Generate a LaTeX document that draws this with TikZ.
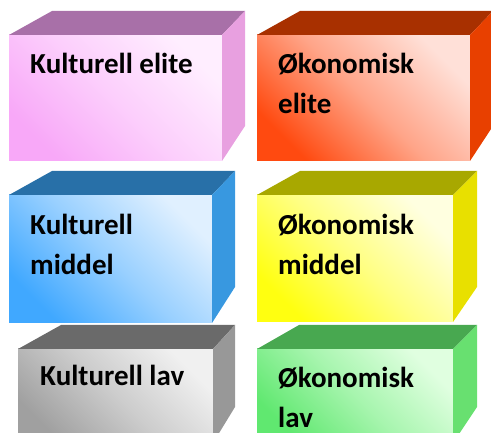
\documentclass[tikz,border=0pt]{standalone}
\usepackage{fontspec}
\setmainfont{Carlito}
\usetikzlibrary{positioning}

\definecolor{pinkL}{HTML}{FFEEFF}
\definecolor{pinkD}{HTML}{F8A8F8}
\definecolor{pinkT}{HTML}{A870A8}
\definecolor{pinkS}{HTML}{E8A0E0}
\definecolor{redL}{HTML}{FFE0D8}
\definecolor{redD}{HTML}{FF4A10}
\definecolor{redT}{HTML}{A83000}
\definecolor{redS}{HTML}{E84000}
\definecolor{blueL}{HTML}{E0F0FF}
\definecolor{blueD}{HTML}{40A8FF}
\definecolor{blueT}{HTML}{2870A8}
\definecolor{blueS}{HTML}{3898E0}
\definecolor{yellowL}{HTML}{FFFFE0}
\definecolor{yellowD}{HTML}{FFFF10}
\definecolor{yellowT}{HTML}{A8A800}
\definecolor{yellowS}{HTML}{E8E000}
\definecolor{grayL}{HTML}{F0F0F0}
\definecolor{grayD}{HTML}{A0A0A0}
\definecolor{grayT}{HTML}{6A6A6A}
\definecolor{grayS}{HTML}{989898}
\definecolor{greenL}{HTML}{E0FFE0}
\definecolor{greenD}{HTML}{60E870}
\definecolor{greenT}{HTML}{48A850}
\definecolor{greenS}{HTML}{68E070}

\begin{document}
\begin{tikzpicture}[x=1pt,y=1pt,
                    frontface/.style={rectangle,
                                      inner sep=0,outer sep=0,
                                      anchor=north west
                                     },
                    boxtext/.style={inner sep=0,
                                    align=left,
                                    font=\fontsize{29}{40}\selectfont\bfseries
                                   }
                   ]
  \useasboundingbox (0,0) rectangle (491,432);
  \clip (0,0) rectangle (491,432);

  % kulturell elite
  \node[frontface,minimum width=213pt,minimum height=126pt,
        top color=pinkL,bottom color=pinkD,middle color=pinkL!55!pinkD,shading angle=-45] (KE) at (9,397) {};
  \fill[pinkT] (KE.north west) -- ++(43,24) -- ++(193,0) -- (KE.north east) -- cycle;
  \fill[pinkS] (KE.north east) -- ++(23,24) -- ++(0,-115) -- (KE.south east) -- cycle;
  \node[boxtext,below right=39pt and 21pt of KE.north west,anchor=base west] (KEtext) {Kulturell elite};

  % økonomisk elite (base = last line)
  \node[frontface,minimum width=213pt,minimum height=126pt,
        top color=redL,bottom color=redD,middle color=redL!60!redD,shading angle=-45] (OE) at (257,397) {};
  \fill[redT] (OE.north west) -- ++(43,24) -- ++(193,0) -- (OE.north east) -- cycle;
  \fill[redS] (OE.north east) -- ++(23,24) -- ++(0,-115) -- (OE.south east) -- cycle;
  \node[boxtext,below right=79pt and 21pt of OE.north west,anchor=base west] (OEtext) {Økonomisk\\elite};

  % kulturell middel
  \node[frontface,minimum width=203pt,minimum height=128pt,
        top color=blueL,bottom color=blueD,middle color=blueL!55!blueD,shading angle=-45] (KM) at (9,237) {};
  \fill[blueT] (KM.north west) -- ++(43,24) -- ++(183,0) -- (KM.north east) -- cycle;
  \fill[blueS] (KM.north east) -- ++(23,24) -- ++(0,-116) -- (KM.south east) -- cycle;
  \node[boxtext,below right=80pt and 21pt of KM.north west,anchor=base west] (KMtext) {Kulturell\\middel};

  % økonomisk middel
  \node[frontface,minimum width=196pt,minimum height=127pt,
        top color=yellowL,bottom color=yellowD,middle color=yellowL!55!yellowD,shading angle=-45] (OM) at (257,237) {};
  \fill[yellowT] (OM.north west) -- ++(43,24) -- ++(177,0) -- (OM.north east) -- cycle;
  \fill[yellowS] (OM.north east) -- ++(24,24) -- ++(0,-116) -- (OM.south east) -- cycle;
  \node[boxtext,below right=80pt and 21pt of OM.north west,anchor=base west] (OMtext) {Økonomisk\\middel};

  % kulturell lav
  \node[frontface,minimum width=195pt,minimum height=94pt,
        top color=grayL,bottom color=grayD,middle color=grayL!55!grayD,shading angle=-45] (KL) at (18,83) {};
  \fill[grayT] (KL.north west) -- ++(43,24) -- ++(174,0) -- (KL.north east) -- cycle;
  \fill[grayS] (KL.north east) -- ++(22,24) -- ++(0,-82) -- (KL.south east) -- cycle;
  \node[boxtext,below right=37pt and 22pt of KL.north west,anchor=base west] (KLtext) {Kulturell lav};

  % økonomisk lav
  \node[frontface,minimum width=196pt,minimum height=94pt,
        top color=greenL,bottom color=greenD,middle color=greenL!55!greenD,shading angle=-45] (OL) at (257,83) {};
  \fill[greenT] (OL.north west) -- ++(42,24) -- ++(178,0) -- (OL.north east) -- cycle;
  \fill[greenS] (OL.north east) -- ++(24,24) -- ++(0,-82) -- (OL.south east) -- cycle;
  \node[boxtext,below right=78pt and 21pt of OL.north west,anchor=base west] (OLtext) {Økonomisk\\lav};
\end{tikzpicture}
\end{document}
